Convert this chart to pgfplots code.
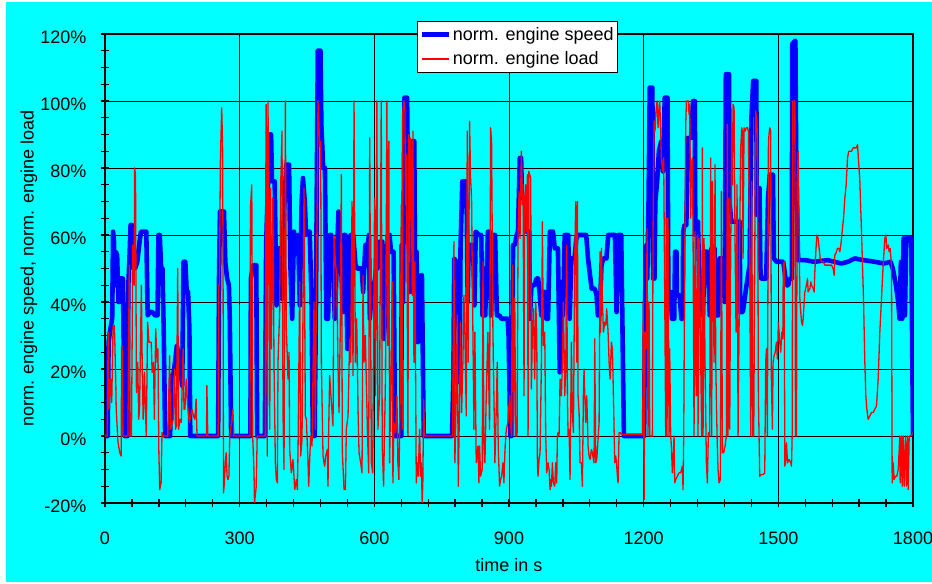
\documentclass[border=0pt]{standalone}
\usepackage{fontspec}
\setmainfont{Liberation Sans}
\usepackage{pgfplots}
\pgfplotsset{compat=1.18}
\definecolor{bgcyan}{RGB}{0,255,255}
\definecolor{speedblue}{RGB}{0,0,255}
\definecolor{loadred}{RGB}{255,0,0}
\begin{document}
\begin{tikzpicture}
\fill[white] (0,0) rectangle (932bp,584bp);
\fill[bgcyan] (6bp,2bp) rectangle (932bp,582bp);
\useasboundingbox (0,0) rectangle (932bp,584bp);
\begin{axis}[
  at={(105bp,81bp)}, anchor=south west,
  width=808bp, height=469bp, scale only axis,
  xmin=0, xmax=1800, ymin=-20, ymax=120,
  xtick={0,300,...,1800}, xticklabels={0,300,600,900,1200,1500,1800},
  ytick={-20,0,...,120}, yticklabels={-20\%,0\%,20\%,40\%,60\%,80\%,100\%,120\%},
  minor x tick num=4, minor y tick num=3,
  tick pos=left, tick align=center,
  major tick length=9bp, minor tick length=9bp,
  tick style={black, line width=1.3bp},
  grid=major, major grid style={black, line width=0.8bp},
  axis line style={black, line width=1.8bp},
  tick label style={font=\fontsize{18bp}{21bp}\selectfont},
  xticklabel style={anchor=base, yshift=-37bp},
  yticklabel style={anchor=east, inner sep=0pt, xshift=-14bp, yshift=-3.5bp},
  xlabel={time in s}, ylabel={norm. engine speed, norm. engine load},
  label style={font=\fontsize{18bp}{21bp}\selectfont},
  xlabel style={at={(axis description cs:0.5,-0.132)}, anchor=center},
  ylabel style={at={(axis description cs:-0.094,0.5)}, anchor=center},
  legend style={at={(0.386,1.028)}, anchor=north west, draw=black, line width=0.8bp, fill=white,
    font=\fontsize{18bp}{21bp}\selectfont, inner xsep=2bp, inner ysep=1bp, row sep=0bp,
    nodes={inner xsep=2bp, inner ysep=5bp}},
  legend cell align=left,
  legend image code/.code={\draw[#1] (0bp,0bp) -- (27bp,0bp);},
]
\addplot[speedblue, line width=4.6bp, line join=round] coordinates {
(0,0)(6,0)(8,28)(12,32)(16,35)(18,61)(20,58)(22,45)(24,55)(27,54)(30,40)(32,40)(34,47)(40,47)(42,20)(44,0)(50,0)(52,45)(55,55)(57,63)(60,63)(62,55)(64,50)(67,50)(72,52)(77,58)(80,61)(92,61)(95,36)(100,37)(105,37)(112,36)(117,36)(119,60)(122,60)(125,50)(128,50)(131,30)(134,0)(145,0)(148,18)(152,18)(156,22)(160,27)(164,24)(168,20)(172,15)(175,52)(179,52)(182,43)(185,43)(188,32)(190,0)(252,0)(254,47)(256,67)(265,67)(268,52)(272,47)(276,45)(278,35)(281,0)(324,0)(325,47)(330,51)(337,51)(339,0)(356,0)(359,57)(363,75)(367,90)(370,90)(372,76)(378,76)(382,39)(386,56)(390,56)(394,41)(397,60)(400,70)(404,81)(410,81)(413,51)(417,35)(421,61)(425,55)(430,60)(434,39)(438,70)(441,77)(445,70)(448,60)(452,61)(456,61)(460,41)(463,0)(467,0)(470,40)(474,115)(480,115)(482,93)(486,80)(490,80)(493,35)(497,35)(500,60)(504,60)(508,50)(512,35)(516,50)(520,67)(523,55)(526,51)(530,37)(532,60)(536,60)(540,26)(543,26)(547,60)(553,60)(558,51)(562,50)(572,50)(575,43)(580,57)(585,57)(588,60)(590,35)(594,43)(598,43)(604,50)(607,50)(612,58)(618,58)(621,29)(624,35)(630,60)(634,60)(637,55)(643,55)(646,0)(660,0)(661,57)(664,40)(667,101)(673,101)(676,60)(680,43)(685,88)(689,88)(691,41)(694,55)(697,28)(700,30)(704,48)(706,48)(710,0)(773,0)(776,17)(778,53)(782,52)(786,52)(790,16)(792,56)(796,76)(803,76)(806,66)(808,40)(810,57)(818,57)(821,51)(823,39)(826,61)(833,60)(838,60)(841,36)(847,36)(853,61)(857,61)(860,36)(866,60)(869,60)(873,36)(879,36)(883,35)(892,35)(897,35)(899,30)(903,0)(906,0)(909,57)(913,57)(917,60)(920,61)(924,83)(927,83)(929,71)(935,71)(939,61)(945,61)(946.5,35)(950,45)(957,45)(961,47)(965,47)(968,43)(972,36)(976,43)(980,43)(983,35)(987,35)(991,61)(998,61)(1002,56)(1009,56)(1013,19)(1017,46)(1020.5,36)(1024,60)(1032,60)(1035,35)(1039,53)(1046,53)(1050,59)(1054,60)(1072,60)(1076,53)(1084,44)(1091,44)(1095,42)(1098,36)(1102,36)(1106,51)(1110,53)(1117,53)(1121,60)(1136,60)(1139.6,37)(1143,60)(1150,60)(1156,0)(1201,0)(1203,40)(1206,57)(1208,47)(1211,71)(1213.5,104)(1219.4,104)(1221,47)(1224,47)(1226,70)(1230,76)(1234,85)(1239,88)(1243,79)(1247,101)(1253,101)(1255,43)(1260,43)(1263,35)(1268,35)(1270,55)(1273,55)(1274,42)(1280,42)(1284,35)(1287,35)(1288,61)(1291,63)(1295,63)(1299,89)(1306,89)(1310,100)(1314,100)(1315,60)(1318,64)(1321,64)(1325,38)(1332,36)(1336,55)(1343,55)(1347,36)(1351,56)(1358,56)(1359,36)(1366,36)(1369,53)(1377,53)(1380.5,40)(1383,108)(1390,108)(1392,69)(1395,64)(1414,64)(1415,37)(1421,37)(1428,44)(1436,51)(1440,95)(1444,106)(1451,106)(1452,66)(1455,74)(1458,74)(1460,50)(1462,47)(1473,47)(1477,71)(1481,78)(1488,78)(1490,53)(1496,52)(1511,52)(1514,49)(1518,45)(1522,45)(1525,47)(1530,47)(1531,117)(1538,118)(1540,78)(1544,52.5)(1560,52.5)(1580,52)(1610,52.5)(1640,51.5)(1655,52)(1670,53)(1690,52.5)(1715,52)(1735,51.5)(1750,52)(1755,50)(1762,45)(1767,40)(1770,35)(1773,52)(1776,35)(1779,59)(1782,36)(1785,59)(1796,59)(1800,0)
};
\addlegendentry{norm. engine speed}
\addplot[loadred, line width=1.3bp, line join=round] coordinates {
(0,0)(5,0)(7,31)(9,8)(12,17)(15,10)(18,33)(21,33)(24,16)(25,8)(29,-2)(33,-5)(36,-6)(37,27)(38,27)(40,0)(51,0)(54,51)(56,0)(59,0)(62,57)(65,45)(66,80)(68,78)(70,13)(73,22)(75,5)(77,8)(81,45)(83,20)(85,5)(88,19)(90,8)(92,0)(95,34)(98,28)(101,28)(103,28)(105,19)(108,22)(110,5)(113,32)(116,22)(118,26)(120,-5)(122,-16)(125,-14)(127,1)(130,0)(140,0)(144,24)(146,2)(148,3)(152,5)(155,20)(157,2)(159,3)(162,50)(164,2)(167,5)(170,4)(174,26)(176,8)(178,8)(181,17)(184,9)(188,4)(191,6)(194,8)(197,6)(200,5)(203,11)(205,0)(226,0)(227,15)(229,0)(252,0)(253,45)(255,45)(257,82)(260,98)(262,86)(263,50)(264,-17)(266,-14)(268,-8)(270,-5)(272,-12)(274,-13)(276,-12)(278,0)(285,8)(287,0)(323,0)
(324,68)(327,75)(329,0)(332,-11)(333,-20)(337,-15)(339,0)(357,0)(357.5,53)(359,99)(360.5,60)(361.5,-6)(363,100)(365,71)(367,2)(369,74)(370.6,26)(374,71)(376.5,22)(379.5,-8)(381.7,-13)(384,-14)(385.4,22)(389,37)(391.4,75)(394.3,91)(396.6,6)(398.8,-10)(401.8,100)(404,32)(407.7,17)(410,25)(411.4,-4)(413.6,-8)(415,-11)(418.8,-7)(422.6,-16)(426.3,-13)(428.5,-16)(430,-5)(433.7,46)(436,-6)(438.9,-1)(441.1,38)(443.4,74)(446.3,6)(448.6,5)(452.3,-8)(453.8,-15)(456,-7)(458.2,0)(461.2,-3)(465.6,40)(468.6,2)(470.8,40)(474.5,100)(478.3,87)(480.5,88)(482,22)(485.7,-6)(488,-8)(489.4,-9)(491.6,-6)(495.3,-4)(496.8,-15)(498.3,2)(500.5,18)(504.3,10)(508,3)(510.2,60)(513.2,52)(516.1,48)(519,22)(521.3,7)(524.3,33)(526.5,78)(528.8,-5)(532.5,-16)(535.5,-16)(537.7,2)(541.4,6)(545,29)(547.3,22)(550.3,70)(552.5,18)(554.8,100)(557.7,22)(560.7,35)(563.7,8)(565.9,-5)(569.6,-8)(572.6,-11)(574.8,48)(577,22)(580,30)(582.2,16)(584.5,2)(587.4,-11)(589.7,89)(593.4,-8)(596.3,-11)
(600.5,71)(602.7,12)(605.7,100)(608,2)(611.7,12)(615.4,100)(617.6,-3)(620.6,-15)(622.8,2)(625,18)(628,100)(630.2,27)(632.4,88)(634,-8)(637.6,22)(639.9,46)(641.4,-14)(643.6,4)(647.3,1)(650.3,12)(652.5,-8)(654.7,-13)(657.7,12)(660,69)(662.2,2)(663.6,97)(665.9,100)(668.1,97)(669.6,69)(671,84)(673.3,42)(674.8,0)(677,90)(678.5,52)(680.7,89)(682.2,81)(684.4,42)(686,91)(688.2,22)(690.4,52)(693.4,-14)(695.6,-8)(697.8,-12)(700.8,2)(703,-12)(704.5,-8)(706.7,-20)(708.2,-13)(709.7,11)(712,0)(774,0)(775,17)(777.3,58)(779.5,-8)(782.5,12)(784.7,36)(787,-15)(790,12)(792.1,34)(794.4,7)(797.3,22)(799.6,42)(801.8,30)(804.8,6)(807,91)(809.2,22)(812.2,94)(814.4,77)(816.6,71)(819.6,31)(821.8,2)(824,31)(827,-8)(830.8,-3)(833,-14)(834.5,-3)(836.7,-12)(840.4,-10)(842,52)(844.1,-3)(846.4,-8)(849.3,12)(853,31)(856.7,2)(859,92)(861.2,88)(864.2,31)(866.4,12)(868.6,-8)(871.6,8)(873.8,22)(876,-3)(879,-15)(881.3,-13)(883.5,-12)(886.5,-8)(888.7,-14)(891,-4)(894,2)(897.6,4)(901.3,12)(905,0)
(907.6,51)(909.8,0)(912.8,41)(915,0)(918,0)(920.2,61)(922.4,73)(924.6,59)(926.1,74)(927.6,85)(929.8,69)(931.3,75)(933.5,12)(935,71)(937.3,75)(939.5,61)(941,78)(942.5,0)(944,79)(946.2,78)(948.4,77)(949.9,14)(952.1,31)(954.3,38)(957.3,17)(959.5,40)(961.8,31)(963.3,-8)(964.7,-12)(967,-7)(969.2,-5)(972.2,22)(974.4,64)(976.6,27)(979.6,31)(981.8,0)(984,-11)(987,-8)(989.3,-10)(991.5,-16)(993,-13)(994.4,-15)(996.7,-8)(998.9,-14)(1001.9,-15)(1004.1,-8)(1006.3,-14)(1007.8,0)(1009.3,1)(1011.5,0)(1013.8,17)(1016.7,12)(1019,22)(1021.2,40)(1024.2,12)(1026.4,20)(1028.6,57)(1030.1,12)(1031.6,0)(1033.8,2)(1036,-13)(1039,28)(1041.2,7)(1043.5,1)(1046.4,53)(1048.7,70)(1050.9,22)(1052.4,70)(1053.9,12)(1056.1,7)(1058.3,-8)(1061.3,-8)(1063.5,-15)(1065.7,12)(1067.2,20)(1068.7,13)(1071,4)(1073.2,12)(1076.2,-3)(1078.4,-6)(1080.6,-7)(1083.6,-4)(1085.8,-5)(1088,-7)(1089.5,-8)(1091,29)(1093.2,-8)(1095.5,-7)(1098.4,-1)(1100.7,4)(1102.9,55)(1104.4,31)(1105.9,56)(1108.1,41)(1110.3,31)(1113.3,34)(1115.5,33)(1117.7,38)(1120.7,31)(1123,22)(1125.2,17)(1128.1,28)(1130.4,26)(1132.6,12)(1135.6,-8)(1137.8,-6)(1140,-9)(1141.5,-12)(1143,-14)(1145.2,1)(1147.5,1)(1150.4,0.5)(1198,0.5)
(1199,40)(1201,-19)(1203,31)(1206,26)(1207.5,62)(1209.7,0)(1212,40)(1213.5,0)(1219.4,0)(1220.9,61)(1223.1,94)(1225.3,91)(1226.8,96)(1229.8,100)(1232,92)(1234.2,98)(1235.7,100)(1238,91)(1239.4,83)(1241.7,80)(1243.2,79)(1244.6,83)(1246.9,42)(1249.1,0)(1250.6,65)(1252,0)(1254.3,65)(1256.5,0)(1258,26)(1260.2,0)(1261.7,-3)(1264,-11)(1265.4,-8)(1267.7,0)(1269.2,-14)(1271.4,-13)(1275.1,-12)(1278.8,-11)(1282.5,-11)(1286.2,-9)(1287.7,-16)(1289.2,0)(1291.4,51)(1293.7,93)(1295.2,100)(1297.4,100)(1299.6,100)(1301.1,96)(1302.6,99)(1304.8,65)(1306.3,81)(1308.5,83)(1310,61)(1312.2,0)(1314.5,61)(1316,20)(1317.4,12)(1319.7,60)(1321.1,0)(1323.4,59)(1324.9,46)(1327.1,22)(1329.3,0)(1330.8,86)(1332.3,0)(1334.5,59)(1336.7,22)(1339.7,-8)(1341.9,-14)(1344.2,1)(1347.1,0)(1349.4,83)(1351.6,0)(1353.1,76)(1354.6,51)(1356.8,22)(1359,81)(1360.5,22)(1363.5,0)(1365.7,-10)(1367.9,-14)(1370.9,-13)(1373.1,73)(1375.4,-5)(1378.3,-5)(1381.3,-3)(1384.3,0)(1386.5,93)(1388,0)(1390.2,71)(1391.7,2)(1393.9,56)(1396.2,91)(1397.6,75)(1399.1,99)(1401.4,98)(1403.6,57)(1405.8,31)(1408,75)(1410.3,0)(1412.5,31)(1414,61)(1416.2,86)(1418.4,92)(1419.9,91)(1421.4,53)(1423.6,92)(1425.9,91)(1428.8,92)(1431,92)(1433.3,91)(1436.3,52)(1438.5,0)(1440.7,76)(1443,0)(1445.2,0)(1448.2,71)(1449.6,97)(1451.1,95)(1452.6,93)(1454.1,74)(1455.6,12)(1458.5,-12)(1462.3,-11.5)(1466,-11.5)(1469.7,-11)(1471.9,22)(1473.4,26)(1475.6,0)(1477.9,88)(1479.3,90)(1480.8,92)(1483,91)(1484.5,17)(1486.8,2)(1488.3,22)(1490.5,24)(1493,25)(1495.7,28)(1497.9,23)(1500.1,34)(1503.1,28)(1505.3,25)(1507.6,31)(1510,29)(1511,51)
(1513,52)(1514.5,-9)(1515.9,-8)(1518.2,-2)(1520.4,-8)(1523.4,-7)(1527.8,-8)(1529.3,-9)(1530.8,0)(1532.3,100)(1535.3,100)(1536.7,100)(1538.2,0)(1540.4,0)(1541.9,76)(1544.2,85)(1545.6,69)(1547.9,41)(1551.6,34)(1553.8,33)(1555.3,35)(1559,43)(1562.7,45)(1565,47)(1566.4,43)(1570.2,44)(1572.4,46)(1573.9,45)(1577.6,44)(1579.8,43)(1581.3,49)(1583.5,55)(1585.8,60)(1588.7,59)(1591,56)(1593.2,53)(1596.2,52)(1599.9,52)(1603.6,51)(1607.3,51)(1611,51)(1614.7,51)(1618.4,51)(1622.1,50)(1624.4,48)(1625.9,54)(1629.6,55)(1631.8,56)(1634.8,56)(1637,55)(1639.2,57)(1642.2,61)(1645.2,65)(1648.1,71)(1651.1,75)(1654.1,83)(1657,85)(1659.3,85)(1663,85)(1666.7,86)(1670.4,86)(1674.1,86)(1676.4,87)(1677.8,84)(1681.6,76)(1685.3,61)(1687.5,51)(1689.7,41)(1692.7,22)(1694.9,12)(1697.2,8)(1700.1,5)(1703.8,6)(1707.6,7)(1711.3,7)(1715,8)(1718.7,9)(1722.4,17)(1726.1,31)(1729.8,41)(1733.5,51)(1737.3,59)(1739.5,60)(1741.7,56)(1744.7,57)(1746.9,55)(1749.2,56)(1752.1,51)(1753.6,-14)(1755.8,-8)(1758,-13)(1761,-12)(1764,-12)(1767,-10)(1770.7,0)(1771.4,-14)(1774.4,0)(1775.9,-15)(1778.1,0)(1780.3,-15)(1783.3,0)(1785.5,-15)(1787.8,0)(1789.3,-16)(1791.5,0)(1795.2,0)(1800,1)
};
\addlegendentry{norm. engine load}
\end{axis}
\end{tikzpicture}
\end{document}
